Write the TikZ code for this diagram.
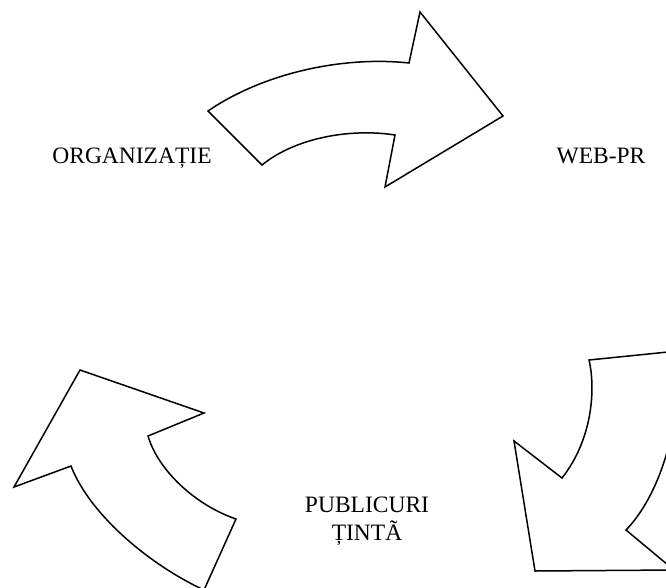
\documentclass[tikz,border=0pt]{standalone}
\usepackage{fontspec}
\setmainfont{Liberation Serif}
\usepackage{tikz}
\usetikzlibrary{positioning}

\begin{document}
\begin{tikzpicture}[x=1pt, y=-1pt, line join=miter,
        cyclearrow/.style={draw=black, fill=white, line width=1.5pt},
        label/.style={font=\fontsize{23.5}{28}\selectfont, align=center, inner sep=0pt, anchor=base}]
        \clip (0,0) rectangle (666,587);

        % top arrow: ORGANIZATIE -> WEB-PR
        \coordinate (Ttail) at (208,111);
        \coordinate (Tbarb) at (409,63);
        \draw[cyclearrow] (Ttail) .. controls (265,72) and (345,56) .. (Tbarb)
            -- (420,12) -- (503,116) -- (385,187) -- (395,135)
            .. controls (350,128) and (295,138) .. (262,165) -- cycle;

        % right arrow: WEB-PR -> PUBLICURI TINTA
        \coordinate (Rtail) at (589,360);
        \draw[cyclearrow] (Rtail) -- (668,352)
            .. controls (688,400) and (665,490) .. (626,530)
            -- (674,570) -- (535,571) -- (514,441) -- (562,478)
            .. controls (592,440) and (596,390) .. (Rtail) -- cycle;

        % left arrow: PUBLICURI TINTA -> ORGANIZATIE
        \coordinate (Ltip) at (80,370);
        \draw[cyclearrow] (Ltip) -- (204,413) -- (148,436)
            .. controls (158,470) and (195,505) .. (236,519)
            -- (204,590)
            .. controls (150,565) and (90,515) .. (71,466)
            -- (14,487) -- cycle;

        \node[label] (org) at (132,163) {ORGANIZAȚIE};
        \node[label] (web) at (601,163) {WEB-PR};
        \node[label, anchor=north] (pub) at (367,497) {PUBLICURI\\ȚINTÃ};
\end{tikzpicture}
\end{document}
